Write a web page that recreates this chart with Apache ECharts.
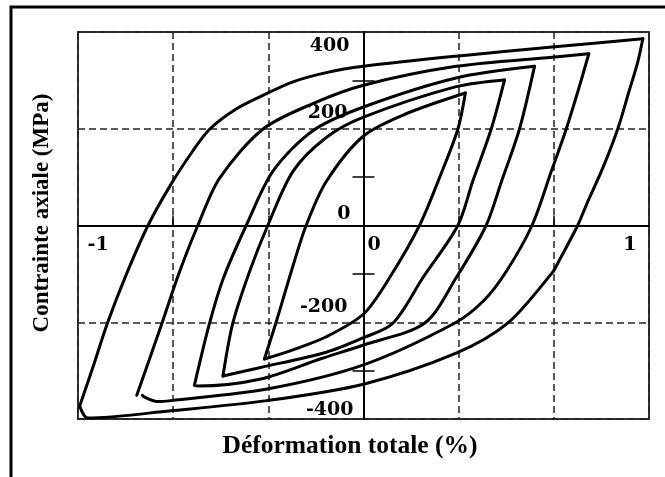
<!DOCTYPE html>
<html>
<head>
<meta charset="utf-8">
<script src="https://cdn.jsdelivr.net/npm/echarts@6/dist/echarts.min.js"></script>
<style>
html,body{margin:0;padding:0;background:#fff;}
#c{width:665px;height:477px;}
</style>
</head>
<body>
<div id="c"></div>
<script>
// Axis labels / ticks
const xTickLabels = [-1, 0];
const xTickLabelsRight = [1];
const yTickLabels = [400, 200, 0, -200, -400];
const yMinorTicks = [-300, -100, 100, 300];
const xInnerTicks = [-0.68, -0.34, 0.34, 0.68];
const xTitle = 'Déformation totale (%)';
const yTitle = 'Contrainte axiale (MPa)';

// Loops: loading branch (Up) and unloading branch (Down), [strain %, stress MPa]
const loop1Up = [[-1.014,-373],[-0.965,-290],[-0.915,-202],[-0.848,-102],[-0.770,0],[-0.689,84],[-0.61,154],[-0.55,199],[-0.455,241],[-0.345,273],[-0.252,297],[-0.133,316],[0,329],[0.331,350],[0.674,369],[0.998,386]];
const loop1Down = [[0.998,386],[0.979,336],[0.95,280],[0.908,199],[0.855,119],[0.801,49],[0.765,0],[0.694,-78],[0.674,-98],[0.515,-202],[0.331,-264],[0,-328],[-0.345,-362],[-0.689,-383],[-0.985,-398],[-1.014,-373]];
const loop2Up = [[-0.81,-351],[-0.72,-202],[-0.66,-100],[-0.592,0],[-0.514,98],[-0.36,199],[-0.181,252],[0,290],[0.331,329],[0.674,348],[0.805,355]];
const loop2Down = [[0.805,355],[0.771,287],[0.724,199],[0.671,112],[0.602,0],[0.51,-95],[0.43,-155],[0.325,-202],[0,-288],[-0.345,-338],[-0.689,-362],[-0.735,-364],[-0.782,-355],[-0.79,-351]];
const loop3Up = [[-0.604,-330],[-0.55,-202],[-0.5,-108],[-0.419,0],[-0.324,112],[-0.181,196],[0,245],[0.331,305],[0.611,329]];
const loop3Down = [[0.611,329],[0.557,199],[0.493,91],[0.438,0],[0.331,-108],[0.218,-202],[0,-247],[-0.15,-275],[-0.371,-318],[-0.592,-332],[-0.604,-330]];
const loop4Up = [[-0.502,-311],[-0.467,-202],[-0.407,-95],[-0.342,0],[-0.252,112],[-0.133,182],[0,224],[0.331,287],[0.504,301]];
const loop4Down = [[0.504,301],[0.456,199],[0.39,91],[0.337,0],[0.212,-108],[0.105,-202],[0,-232],[-0.133,-262],[-0.371,-294],[-0.502,-311]];
const loop5Up = [[-0.354,-276],[-0.31,-196],[-0.258,-95],[-0.205,0],[-0.133,91],[0,185],[0.152,231],[0.364,274]];
const loop5Down = [[0.364,274],[0.337,199],[0.271,98],[0.2,0],[0.093,-108],[0,-183],[-0.133,-230],[-0.252,-257],[-0.354,-276]];

const branches = [loop1Up, loop1Down, loop2Up, loop2Down, loop3Up, loop3Down, loop4Up, loop4Down, loop5Up, loop5Down];

const tickFont = {fontFamily: 'DejaVu Serif', fontWeight: 'bold', fontSize: 19, color: '#000'};
const titleFont = '"Liberation Serif", serif';

// grid geometry
const G = {left: 78, right: 16, top: 32, bottom: 58};
const W = 665, H = 477;
const plotW = W - G.left - G.right, plotH = H - G.top - G.bottom;
const xOff = -plotW / 2;   // move y axes to x = 0
const yOff = -plotH / 2;   // move x axes to y = 0

const chart = echarts.init(document.getElementById('c'), null, {renderer: 'canvas'});
const yRich = {
  p400: Object.assign({padding: [29, 4, 0, 0]}, tickFont),
  p200: Object.assign({padding: [0, 6, 32, 0]}, tickFont),
  p0: Object.assign({padding: [0, 3, 22, 0]}, tickFont),
  pm200: Object.assign({padding: [0, 6, 30, 0]}, tickFont),
  pm400: Object.assign({padding: [0, 0, 18, 0]}, tickFont)
};
const yTok = {'400': 'p400', '200': 'p200', '0': 'p0', '-200': 'pm200', '-400': 'pm400'};
function yFmt(v) {
  return '{' + yTok[String(v)] + '|' + v + '}';
}
const dash = {color: '#222', width: 1.5, type: [7, 4]};

const option = {
  animation: false,
  backgroundColor: '#fff',
  grid: {left: G.left, right: G.right, top: G.top, bottom: G.bottom, show: true, borderColor: '#333', borderWidth: 2},
  xAxis: [{
    type: 'value', min: -1.02, max: 1.02, interval: 0.34, position: 'bottom', offset: yOff,
    axisLine: {show: true, onZero: false, lineStyle: {color: '#000', width: 2}},
    axisTick: {show: true, inside: true, length: 10, customValues: xInnerTicks, lineStyle: {color: '#000', width: 1.5}},
    axisLabel: Object.assign({show: true, customValues: xTickLabels, align: 'left', margin: 10, padding: [0, 0, 0, 4], formatter: v => String(v)}, tickFont),
    splitLine: {show: false}
  }, {
    type: 'value', min: -1.02, max: 1.02, interval: 0.34, position: 'top', offset: yOff,
    axisLine: {show: false, onZero: false},
    axisTick: {show: false},
    axisLabel: Object.assign({show: true, inside: true, customValues: xTickLabelsRight, align: 'right', margin: 10, padding: [0, 7, 0, 0], formatter: v => String(v)}, tickFont),
    splitLine: {show: true, lineStyle: dash}
  }],
  yAxis: [{
    type: 'value', min: -400, max: 400, interval: 200, position: 'left', offset: xOff,
    axisLine: {show: true, onZero: false, lineStyle: {color: '#000', width: 2}},
    axisTick: {show: true, customValues: yMinorTicks, length: 11, lineStyle: {color: '#000', width: 1.5}},
    axisLabel: {show: true, customValues: yTickLabels, margin: 10, formatter: yFmt, rich: yRich, verticalAlign: 'middle'},
    splitLine: {show: false}
  }, {
    type: 'value', min: -400, max: 400, interval: 200, position: 'right', offset: xOff,
    axisLine: {show: false, onZero: false},
    axisTick: {show: true, customValues: yMinorTicks, length: 11, lineStyle: {color: '#000', width: 1.5}},
    axisLabel: {show: false},
    splitLine: {show: false}
  }, {
    type: 'value', min: -400, max: 400, interval: 200, position: 'right',
    axisLine: {show: false, onZero: false},
    axisTick: {show: false},
    axisLabel: {show: false},
    splitLine: {show: true, lineStyle: dash}
  }],
  graphic: [
    {type: 'rect', shape: {x: 11, y: 7, width: 700, height: 500}, style: {fill: 'none', stroke: '#000', lineWidth: 3}, silent: true},
    {type: 'text', x: 350, y: 446, style: {text: xTitle, font: 'bold 25.5px ' + titleFont, fill: '#000', textAlign: 'center', textVerticalAlign: 'middle'}},
    {type: 'text', x: 42, y: 213, rotation: Math.PI / 2, style: {text: yTitle, font: 'bold 23px ' + titleFont, fill: '#000', textAlign: 'center', textVerticalAlign: 'middle'}}
  ],
  series: branches.map(b => ({
    type: 'line', data: b, xAxisIndex: 0, yAxisIndex: 0, showSymbol: false, symbol: 'none',
    smooth: 0.3, lineStyle: {color: '#000', width: 3, cap: 'round', join: 'round'}, z: 5
  }))
};
chart.setOption(option);
</script>
</body>
</html>
